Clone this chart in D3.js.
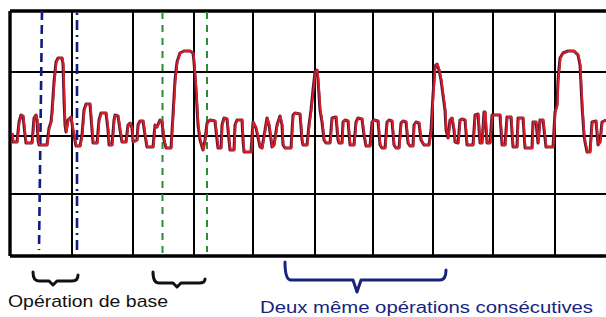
<!DOCTYPE html>
<html>
<head>
<meta charset="utf-8">
<script src="https://cdn.jsdelivr.net/npm/d3@7"></script>
<style>
  body { margin: 0; background: #fff; }
  svg { display: block; }
</style>
</head>
<body>
<script>
// grid positions (samples / counts)
var xGrid = [0, 62, 123, 184, 243, 305, 363, 423, 483, 545];
var yGrid = [125, 64, 0, -58, -120];

// trace: [sample, counts]
var signal = [
  [2,3],[3,-6],[7,-6],[9,14],[11,21],[13,20],[15,1],[16,-7],[22,-7],[24,18],
  [26,21],[27,16],[28,-4],[29,-9],[37,-9],[39,8],[41,14],[42,24],[44,54],[46,74],
  [48,78],[52,78],[53,72],[54,36],[55,11],[56,4],[58,16],[61,19],[63,6],[66,-10],
  [70,-10],[72,1],[74,26],[76,32],[80,32],[82,6],[83,-7],[87,-7],[89,16],[91,23],
  [96,23],[98,6],[99,-9],[102,-9],[104,16],[105,21],[108,20],[110,6],[112,-6],[116,-6],
  [118,11],[120,13],[122,8],[123,-6],[127,-4],[128,11],[130,15],[133,15],[135,1],[137,-11],
  [143,-11],[145,11],[147,9],[150,16],[152,14],[154,-4],[156,-12],[161,-12],[163,21],[165,56],
  [167,74],[170,83],[174,85],[180,85],[183,83],[184,74],[186,46],[188,11],[190,-4],[193,-14],
  [195,-4],[197,13],[200,16],[205,15],[207,-4],[208,-12],[211,-12],[212,11],[214,18],[217,17],
  [219,-4],[220,-14],[224,-14],[225,11],[227,16],[232,16],[233,-4],[234,-16],[241,-16],[243,14],
  [246,8],[250,-11],[252,-12],[255,6],[257,18],[259,11],[262,-11],[264,-9],[267,11],[270,20],
  [272,11],[273,-9],[275,-12],[281,-12],[283,21],[285,23],[290,22],[292,-4],[293,-9],[297,-9],
  [299,11],[301,26],[303,46],[305,64],[307,66],[308,56],[310,26],[312,14],[314,-4],[316,-7],
  [320,-7],[322,18],[326,19],[328,-4],[329,-7],[332,-7],[333,14],[335,16],[338,15],[340,-9],
  [344,-9],[346,14],[348,18],[352,17],[354,1],[356,-10],[360,-10],[362,14],[364,16],[368,15],
  [370,-9],[372,-12],[375,-12],[377,14],[379,16],[382,15],[384,-9],[386,-12],[389,-12],[391,13],
  [393,15],[396,14],[398,-7],[400,-10],[403,-10],[404,11],[406,14],[409,13],[411,-4],[414,-9],
  [419,-9],[421,6],[423,41],[425,70],[427,72],[429,66],[431,56],[433,41],[435,26],[436,6],
  [438,-2],[440,16],[442,18],[444,6],[445,-6],[448,-7],[450,16],[452,17],[455,16],[457,-9],
  [463,-9],[465,21],[468,22],[470,-7],[472,-7],[474,24],[475,24],[477,-7],[480,-7],[482,21],
  [490,21],[492,-9],[495,-9],[497,19],[501,19],[503,-11],[507,-11],[508,18],[513,18],[515,-12],
  [522,-12],[523,14],[526,14],[528,-7],[530,16],[533,16],[536,-11],[543,-11],[545,24],[547,31],
  [548,56],[550,78],[553,83],[558,85],[564,85],[568,81],[570,71],[572,31],[574,1],[575,-6],
  [577,-16],[580,-16],[582,14],[586,15],[588,-9],[590,-6],[592,14],[596,16]
];

// dashed cursors: sample at top / bottom, counts at top / bottom
var cursors = [
  {t0: 32, t1: 29, v0: 125, v1: -114, color: "#101c82", dash: "9,5", w: 2.6},
  {t0: 67, t1: 67, v0: 123, v1: -118, color: "#101c82", dash: "2,5,10,5", w: 2.6},
  {t0: 152.5, t1: 152.5, v0: 124, v1: -120, color: "#2a8c34", dash: "7,6", w: 2},
  {t0: 197, t1: 197, v0: 124, v1: -116, color: "#2a8c34", dash: "7,6", w: 2}
];

// braces under the grid: span in samples
var braces = [
  {from: 23, to: 68, tip: 43, color: "#111", yl: 272, yr: 275, ym: 281, yt: 285},
  {from: 143, to: 195, tip: 167, color: "#111", yl: 272, yr: 279, ym: 283, yt: 287},
  {from: 275, to: 436, tip: 347, color: "#16247e", yl: 262, yr: 270, ym: 280, yt: 292}
];

var labels = [
  {text: "Opération de base", x: 8, y: 307, size: 17, len: 160, color: "#111"},
  {text: "Deux même opérations consécutives", x: 260, y: 313, size: 16, len: 333, color: "#16247e"}
];

var W = 606, H = 317;

var svg = d3.select("body").append("svg")
    .attr("width", W)
    .attr("height", H);

var x = d3.scaleLinear().domain([0, 600]).range([10, 610]);
var y = d3.scaleLinear().domain([-125, 125]).range([261, 11]);

// grid
var grid = svg.append("g");

grid.selectAll("line.h").data(yGrid).enter().append("line")
    .attr("class", "h")
    .attr("x1", x(0)).attr("x2", W)
    .attr("y1", d => y(d)).attr("y2", d => y(d))
    .attr("stroke", "#000")
    .attr("stroke-width", (d, i) => (i == 0 || i == yGrid.length - 1) ? 3.6 : 2);

grid.selectAll("line.v").data(xGrid).enter().append("line")
    .attr("class", "v")
    .attr("x1", d => x(d)).attr("x2", d => x(d))
    .attr("y1", y(yGrid[0])).attr("y2", y(yGrid[yGrid.length - 1]))
    .attr("stroke", "#000")
    .attr("stroke-width", (d, i) => i == 0 ? 3.4 : 2);

// cursors
svg.append("g").selectAll("line").data(cursors).enter().append("line")
    .attr("x1", d => x(d.t0)).attr("x2", d => x(d.t1))
    .attr("y1", d => y(d.v0)).attr("y2", d => y(d.v1))
    .attr("stroke", d => d.color)
    .attr("stroke-width", d => d.w)
    .attr("stroke-dasharray", d => d.dash);

// trace, dark edge under a red core
var line = d3.line()
    .x(d => x(d[0]))
    .y(d => y(d[1]));

svg.append("path")
    .datum(signal)
    .attr("d", line)
    .attr("fill", "none")
    .attr("stroke", "#5a1838")
    .attr("stroke-width", 3)
    .attr("stroke-linejoin", "round");

svg.append("path")
    .datum(signal)
    .attr("d", line)
    .attr("transform", "translate(0.5,0)")
    .attr("fill", "none")
    .attr("stroke", "#dc1e24")
    .attr("stroke-width", 1.8)
    .attr("stroke-linejoin", "round");

// braces
svg.append("g").selectAll("path").data(braces).enter().append("path")
    .attr("d", function (b) {
        var x0 = x(b.from), x1 = x(b.to), xt = x(b.tip);
        return "M" + x0 + "," + b.yl +
            " Q" + x0 + "," + b.ym + " " + (x0 + 6) + "," + b.ym +
            " L" + (xt - 4) + "," + b.ym +
            " L" + xt + "," + b.yt +
            " L" + (xt + 4) + "," + b.ym +
            " L" + (x1 - 6) + "," + b.ym +
            " Q" + x1 + "," + b.ym + " " + x1 + "," + b.yr;
    })
    .attr("fill", "none")
    .attr("stroke", b => b.color)
    .attr("stroke-width", 3)
    .attr("stroke-linejoin", "round")
    .attr("stroke-linecap", "round");

// labels
svg.append("g").selectAll("text").data(labels).enter().append("text")
    .text(d => d.text)
    .attr("x", d => d.x)
    .attr("y", d => d.y)
    .attr("font-family", "'Liberation Sans', Arial, sans-serif")
    .attr("font-size", d => d.size + "px")
    .attr("fill", d => d.color)
    .attr("textLength", d => d.len)
    .attr("lengthAdjust", "spacingAndGlyphs");
</script>
</body>
</html>
